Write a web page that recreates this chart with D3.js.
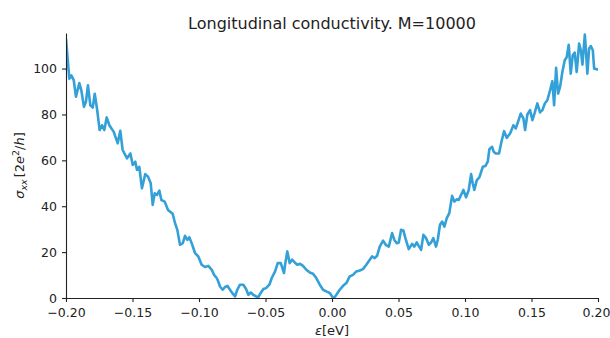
<!DOCTYPE html>
<html>
<head>
<meta charset="utf-8">
<script src="https://cdn.jsdelivr.net/npm/d3@7"></script>
<style>
	body { margin: 0; background: #fff; }
	svg { display: block; font-family: "DejaVu Sans", sans-serif; }
	.axis path, .axis line { stroke: #222; }
	.axis text { fill: #222; font-size: 12.5px; font-family: "DejaVu Sans", sans-serif; }
</style>
</head>
<body>
<svg id="chart" width="610" height="338"></svg>
<script>

// energy (eV) and sigma_xx [2e^2/h]
var eps = [
	-0.2000, -0.1975, -0.1960, -0.1942, -0.1925, -0.1900, -0.1885, -0.1865, -0.1850, -0.1835,
	-0.1817, -0.1799, -0.1784, -0.1767, -0.1747, -0.1729, -0.1712, -0.1694, -0.1674, -0.1641,
	-0.1611, -0.1592, -0.1574, -0.1541, -0.1516, -0.1498, -0.1479, -0.1466, -0.1449, -0.1429,
	-0.1404, -0.1383, -0.1363, -0.1348, -0.1333, -0.1316, -0.1298, -0.1283, -0.1258, -0.1233,
	-0.1198, -0.1180, -0.1163, -0.1143, -0.1122, -0.1105, -0.1088, -0.1073, -0.1055, -0.1030,
	-0.1005, -0.0980, -0.0955, -0.0930, -0.0904, -0.0887, -0.0867, -0.0855, -0.0842, -0.0822,
	-0.0804, -0.0787, -0.0767, -0.0746, -0.0729, -0.0712, -0.0692, -0.0667, -0.0646, -0.0629,
	-0.0611, -0.0592, -0.0571, -0.0554, -0.0536, -0.0516, -0.0496, -0.0471, -0.0453, -0.0428,
	-0.0408, -0.0385, -0.0361, -0.0351, -0.0336, -0.0318, -0.0300, -0.0280, -0.0261, -0.0240,
	-0.0218, -0.0193, -0.0167, -0.0143, -0.0118, -0.0092, -0.0067, -0.0043, -0.0017, 0.0000,
	0.0015, 0.0033, 0.0058, 0.0083, 0.0108, 0.0133, 0.0158, 0.0183, 0.0209, 0.0233,
	0.0258, 0.0284, 0.0301, 0.0321, 0.0339, 0.0359, 0.0384, 0.0404, 0.0427, 0.0452,
	0.0469, 0.0487, 0.0502, 0.0519, 0.0537, 0.0552, 0.0577, 0.0602, 0.0619, 0.0637,
	0.0652, 0.0670, 0.0687, 0.0707, 0.0728, 0.0745, 0.0762, 0.0782, 0.0795, 0.0812,
	0.0828, 0.0845, 0.0863, 0.0882, 0.0903, 0.0920, 0.0938, 0.0953, 0.0970, 0.0988,
	0.1008, 0.1028, 0.1046, 0.1058, 0.1070, 0.1089, 0.1108, 0.1134, 0.1153, 0.1171,
	0.1183, 0.1204, 0.1216, 0.1231, 0.1256, 0.1274, 0.1294, 0.1314, 0.1339, 0.1364,
	0.1382, 0.1399, 0.1419, 0.1439, 0.1452, 0.1469, 0.1489, 0.1507, 0.1525, 0.1544,
	0.1564, 0.1582, 0.1600, 0.1619, 0.1640, 0.1657, 0.1670, 0.1685, 0.1700, 0.1715,
	0.1732, 0.1750, 0.1765, 0.1780, 0.1795, 0.1810, 0.1825, 0.1840, 0.1858, 0.1871,
	0.1883, 0.1901, 0.1910, 0.1920, 0.1933, 0.1946, 0.1961, 0.1971, 0.2000
];

var sigma = [
	113, 95.6, 97, 95, 87.7, 93.7, 90.6, 83.3, 85.5, 92.7,
	84, 83, 89, 82.6, 73.2, 75.3, 73.2, 78.7, 75.3, 72.4,
	67.4, 72.9, 64.5, 60.9, 63, 58, 59.4, 55.8, 57.2, 47.8,
	54, 52.9, 50, 40.6, 45.6, 44.9, 46.8, 42.7, 42, 38.4,
	36.7, 32.6, 29.7, 23.2, 23.9, 27.1, 25.3, 26.5, 23.9, 19.6,
	18.1, 14.5, 13.5, 14, 12.3, 10.1, 8.7, 7.2, 5, 3.6,
	4.8, 5.3, 3.6, 1.9, 0.7, 3.6, 5.8, 5.8, 3.9, 1.4,
	2.4, 1.4, 0.7, 0.4, 2.2, 3.9, 4.3, 5.8, 8.7, 11.6,
	15.2, 15.2, 10.9, 15.2, 20.3, 15.2, 16.7, 15.5, 14.5, 14.9,
	14, 12.3, 11.1, 10.6, 8.7, 5.8, 3.6, 2.9, 2.2, 0.7,
	0, 1.4, 3.6, 5.3, 6.5, 9.4, 10.1, 11.6, 12, 12.6,
	14.5, 16.7, 18.1, 17.4, 18.4, 22.4, 25, 23.2, 22.4, 28.3,
	25.3, 23.9, 24.2, 29.7, 29.4, 26.1, 21.3, 23.6, 22.4, 24.2,
	22.7, 21, 27.5, 26.1, 23.2, 24.2, 26.1, 22.4, 25.3, 31.9,
	33.3, 31.1, 34.8, 37, 44.5, 42, 43, 42.7, 44.9, 47.1,
	43.9, 47.1, 54, 50, 47.1, 51.4, 52.6, 57.2, 57.5, 59.4,
	64.8, 65.9, 63.7, 63, 63, 68.1, 72.7, 69.8, 71.7, 75.3,
	73.9, 76.8, 80.4, 78.3, 73.2, 80, 81.9, 77.5, 80.9, 84.8,
	80.9, 81.9, 84.8, 86.2, 90.6, 94.5, 84, 100.3, 89.1, 92,
	98.5, 103.6, 105, 110.4, 97.8, 105.8, 107, 98.5, 110.9, 108,
	101.7, 114.8, 107.2, 97.8, 108.7, 109.8, 108, 100, 99.5
];

var xTicks = [ -0.20, -0.15, -0.10, -0.05, 0.00, 0.05, 0.10, 0.15, 0.20 ];
var yTicks = [ 0, 20, 40, 60, 80, 100 ];

var titleText = 'Longitudinal conductivity. M=10000';

var margin = { top: 33, right: 12, bottom: 40, left: 66 };
var width = 610 - margin.left - margin.right;
var height = 338 - margin.top - margin.bottom;

var svg = d3.select( '#chart' );

var x = d3.scaleLinear().domain( [ -0.2, 0.2 ] ).range( [ 0, width ] );
var y = d3.scaleLinear().domain( [ 0, 115.5 ] ).range( [ height, 0 ] );

var g = svg.append( 'g' )
	.attr( 'transform', 'translate(' + margin.left + ',' + margin.top + ')' );

g.append( 'clipPath' ).attr( 'id', 'plot-clip' )
	.append( 'rect' )
	.attr( 'width', width )
	.attr( 'height', height );

var data = d3.zip( eps, sigma );

var line = d3.line()
	.x( function ( d ) { return x( d[0] ); } )
	.y( function ( d ) { return y( d[1] ); } );

g.append( 'path' )
	.datum( data )
	.attr( 'clip-path', 'url(#plot-clip)' )
	.attr( 'fill', 'none' )
	.attr( 'stroke', '#34a0d8' )
	.attr( 'stroke-width', 2.6 )
	.attr( 'stroke-linejoin', 'round' )
	.attr( 'd', line );

// axes: only left and bottom spines, outward ticks
var fmtX = function ( d ) {
	return d3.format( '.2f' )( d ).replace( '-', '\u2212' );
};

var xAxis = g.append( 'g' )
	.attr( 'class', 'axis' )
	.attr( 'transform', 'translate(0,' + height + ')' )
	.call( d3.axisBottom( x ).tickValues( xTicks ).tickFormat( fmtX ).tickSize( 4 ).tickSizeOuter( 0 ).tickPadding( 6 ) );

// last label sits at the window edge, pull it in a hair so it isn't clipped
xAxis.selectAll( '.tick' ).filter( function ( d ) { return d === 0.2; } )
	.select( 'text' ).attr( 'dx', -2 );

g.append( 'g' )
	.attr( 'class', 'axis' )
	.call( d3.axisLeft( y ).tickValues( yTicks ).tickFormat( d3.format( 'd' ) ).tickSize( 4 ).tickSizeOuter( 0 ).tickPadding( 5 ) );

svg.selectAll( '.axis path' ).attr( 'stroke-width', 1.1 );
svg.selectAll( '.axis line' ).attr( 'stroke-width', 1.1 );

// title
svg.append( 'text' )
	.attr( 'x', margin.left + width / 2 )
	.attr( 'y', 29 )
	.attr( 'text-anchor', 'middle' )
	.attr( 'fill', '#222' )
	.style( 'font-size', '16px' )
	.text( titleText );

// x label
var xl = svg.append( 'text' )
	.attr( 'x', margin.left + width / 2 )
	.attr( 'y', 335 )
	.attr( 'text-anchor', 'middle' )
	.attr( 'fill', '#222' )
	.style( 'font-size', '13px' );
xl.append( 'tspan' ).style( 'font-style', 'italic' ).text( '\u03b5' );
xl.append( 'tspan' ).text( '[eV]' );

// y label
var yl = svg.append( 'text' )
	.attr( 'transform', 'translate(24,' + ( margin.top + height / 2 ) + ') rotate(-90)' )
	.attr( 'text-anchor', 'middle' )
	.attr( 'fill', '#222' )
	.style( 'font-size', '13px' );
yl.append( 'tspan' ).style( 'font-style', 'italic' ).text( '\u03c3' );
yl.append( 'tspan' ).style( 'font-style', 'italic' ).style( 'font-size', '9.5px' ).attr( 'dy', 3 ).text( 'xx' );
yl.append( 'tspan' ).attr( 'dy', -3 ).attr( 'dx', 2 ).text( '[2' );
yl.append( 'tspan' ).style( 'font-style', 'italic' ).text( 'e' );
yl.append( 'tspan' ).style( 'font-size', '9.5px' ).attr( 'dy', -5 ).text( '2' );
yl.append( 'tspan' ).attr( 'dy', 5 ).text( '/' );
yl.append( 'tspan' ).style( 'font-style', 'italic' ).text( 'h' );
yl.append( 'tspan' ).text( ']' );

</script>
</body>
</html>
